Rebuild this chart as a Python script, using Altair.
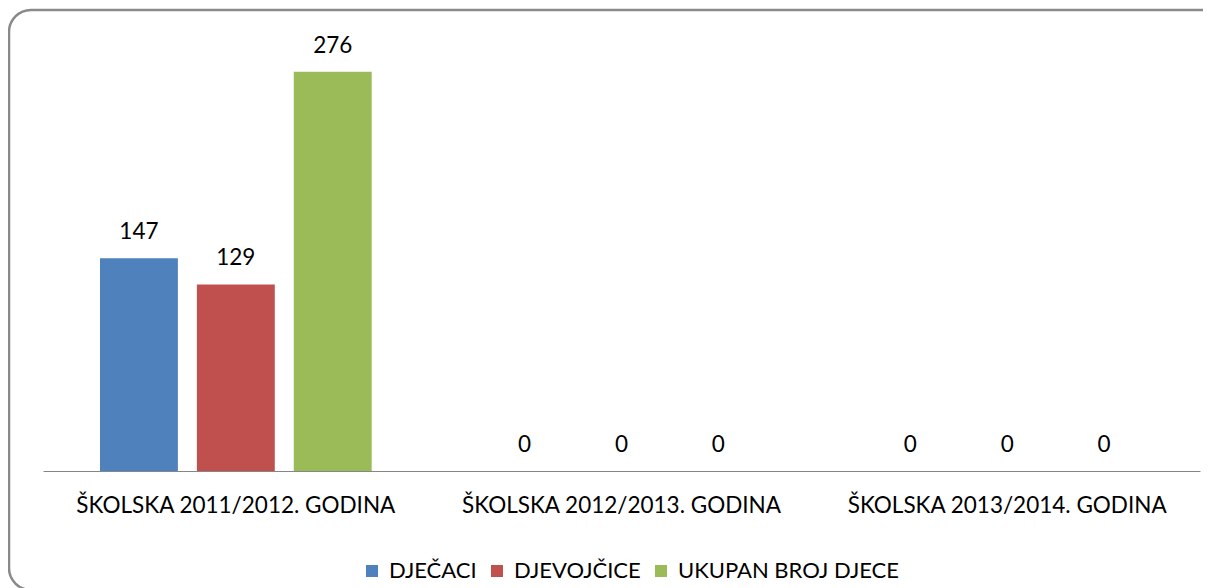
import altair as alt
import pandas as pd

categories = ["ŠKOLSKA 2011/2012. GODINA", "ŠKOLSKA 2012/2013. GODINA", "ŠKOLSKA 2013/2014. GODINA"]
series = ["DJEČACI", "DJEVOJČICE", "UKUPAN BROJ DJECE"]
values_djecaci = [147, 0, 0]
values_djevojcice = [129, 0, 0]
values_ukupno = [276, 0, 0]
colors = ["#4F81BD", "#C0504D", "#9BBB59"]

rows = []
for s, vals in zip(series, [values_djecaci, values_djevojcice, values_ukupno]):
    for c, v in zip(categories, vals):
        rows.append({"kategorija": c, "serija": s, "vrijednost": v})
df = pd.DataFrame(rows)

FONT = "Lato"
FS = 22.5

base = alt.Chart(df).encode(
    x=alt.X("kategorija:N", sort=categories, title=None,
            scale=alt.Scale(paddingInner=0, paddingOuter=0),
            axis=alt.Axis(labelAngle=0, ticks=False, labelPadding=23, labelFontSize=FS,
                          labelFont=FONT, labelColor="#000000", domainColor="#868686",
                          domainWidth=1, grid=False, labelLimit=0)),
    xOffset=alt.XOffset("serija:N", sort=series,
                        scale=alt.Scale(paddingInner=0.196, paddingOuter=0.588)),
)

bars = base.mark_bar().encode(
    y=alt.Y("vrijednost:Q", scale=alt.Scale(domain=[0, 300]), axis=None, title=None),
    color=alt.Color("serija:N", sort=series, scale=alt.Scale(domain=series, range=colors),
                    legend=alt.Legend(title=None, orient="none", direction="horizontal",
                                      legendX=318, legendY=523, symbolType="square",
                                      symbolSize=144, symbolStrokeWidth=0,
                                      labelFontSize=22, labelFont=FONT, labelColor="#000000",
                                      columnPadding=9, labelOffset=6, labelLimit=0)),
)

labels = base.mark_text(dy=-14, fontSize=FS, font=FONT, color="#000000", baseline="bottom").encode(
    y=alt.Y("vrijednost:Q", scale=alt.Scale(domain=[0, 300])),
    text=alt.Text("vrijednost:Q"),
)

frame = alt.Chart(pd.DataFrame({"a": [0]})).mark_rect(
    fill=None, stroke="#8a8a8a", strokeWidth=2.5, cornerRadius=22, clip=False
).encode(x=alt.value(-34), x2=alt.value(1180), y=alt.value(-27), y2=alt.value(553))

chart = alt.layer(frame, bars, labels).properties(
    width=1157, height=434,
    autosize=alt.AutoSizeParams(type="none"),
    padding={"left": 35, "top": 29, "right": 3, "bottom": 117},
    background="white",
).configure_view(stroke=None)

chart.save("out.html", embed_options={"renderer": "svg", "actions": False})
